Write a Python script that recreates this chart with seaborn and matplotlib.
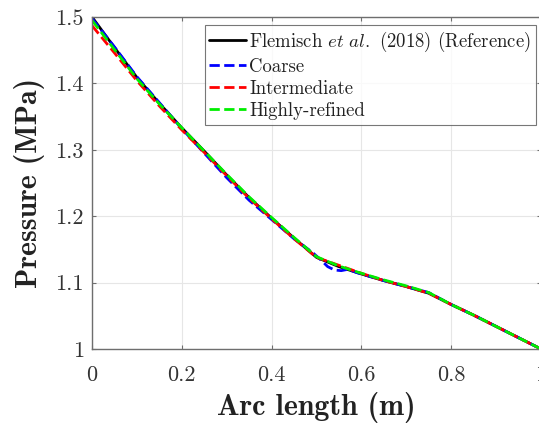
import matplotlib
matplotlib.use("Agg")
import matplotlib.pyplot as plt
import seaborn as sns
import pandas as pd
import numpy as np

# Data
ref_x = [0, 0.05, 0.1, 0.15, 0.2, 0.25, 0.3, 0.35, 0.4, 0.45, 0.5, 0.55, 0.6, 0.65, 0.7, 0.75, 0.8, 0.85, 0.9, 0.95, 1.0]
ref_y = [1.500, 1.454, 1.409, 1.370, 1.333, 1.298, 1.262, 1.228, 1.197, 1.167, 1.138, 1.124, 1.113, 1.103, 1.094, 1.084, 1.067, 1.051, 1.034, 1.017, 1.000]

coarse_x = [0, 0.05, 0.1, 0.15, 0.2, 0.25, 0.3, 0.35, 0.4, 0.45, 0.49, 0.51, 0.525, 0.54, 0.555, 0.57, 0.59, 0.65, 0.7, 0.75, 0.8, 0.85, 0.9, 0.95, 1.0]
coarse_y = [1.498, 1.455, 1.410, 1.371, 1.332, 1.295, 1.258, 1.224, 1.195, 1.166, 1.146, 1.134, 1.124, 1.119, 1.118, 1.120, 1.115, 1.103, 1.094, 1.085, 1.067, 1.051, 1.034, 1.017, 1.000]

inter_x = [0, 0.05, 0.1, 0.15, 0.2, 0.25, 0.3, 0.35, 0.4, 0.45, 0.5, 0.55, 0.6, 0.65, 0.7, 0.75, 0.8, 0.85, 0.9, 0.95, 1.0]
inter_y = [1.487, 1.446, 1.404, 1.366, 1.330, 1.296, 1.261, 1.227, 1.196, 1.166, 1.138, 1.126, 1.114, 1.103, 1.094, 1.084, 1.067, 1.051, 1.034, 1.017, 1.000]

fine_x = [0, 0.05, 0.1, 0.15, 0.2, 0.25, 0.3, 0.35, 0.4, 0.45, 0.5, 0.55, 0.6, 0.65, 0.7, 0.75, 0.8, 0.85, 0.9, 0.95, 1.0]
fine_y = [1.495, 1.451, 1.407, 1.369, 1.333, 1.298, 1.263, 1.229, 1.198, 1.168, 1.139, 1.125, 1.114, 1.104, 1.095, 1.085, 1.067, 1.051, 1.034, 1.017, 1.000]

labels = ["Flemisch $\\mathit{et\\ al.}$ (2018) (Reference)", "Coarse", "Intermediate", "Highly-refined"]
x_ticks = [0, 0.2, 0.4, 0.6, 0.8, 1.0]
x_tick_labels = ["0", "0.2", "0.4", "0.6", "0.8", "1"]
y_ticks = [1.0, 1.1, 1.2, 1.3, 1.4, 1.5]
y_tick_labels = ["1", "1.1", "1.2", "1.3", "1.4", "1.5"]

sns.set_theme(style="white")
plt.rcParams["font.family"] = ["cmr10", "DejaVu Serif"]
plt.rcParams["mathtext.fontset"] = "cm"
plt.rcParams["axes.formatter.use_mathtext"] = True

W, H = 539, 423
fig = plt.figure(figsize=(W / 100, H / 100), dpi=100)
fig.patch.set_facecolor("white")
ax = fig.add_axes([92 / W, 1 - 349 / H, (541 - 92) / W, (349 - 17) / H])
ax.set_facecolor("white")

df = pd.concat([
    pd.DataFrame({"x": ref_x, "y": ref_y, "s": labels[0]}),
    pd.DataFrame({"x": coarse_x, "y": coarse_y, "s": labels[1]}),
    pd.DataFrame({"x": inter_x, "y": inter_y, "s": labels[2]}),
    pd.DataFrame({"x": fine_x, "y": fine_y, "s": labels[3]}),
])

colors = ["black", "#0000ff", "#ff0000", "#00ee00"]
styles = ["-", "--", "--", "--"]
for lab, c, ls in zip(labels, colors, styles):
    sub = df[df["s"] == lab]
    sns.lineplot(data=sub, x="x", y="y", ax=ax, color=c, linestyle=ls,
                 linewidth=2.0, label=lab, estimator=None, sort=False)

ax.set_xlim(0, 1)
ax.set_ylim(1.0, 1.5)
ax.set_xticks(x_ticks)
ax.set_xticklabels(x_tick_labels)
ax.set_yticks(y_ticks)
ax.set_yticklabels(y_tick_labels)
ax.grid(True, color="#e6e6e6", linewidth=0.8)
for s in ax.spines.values():
    s.set_color("#6e6e6e")
    s.set_linewidth(1.0)
ax.tick_params(direction="in", length=3, width=0.8, color="#6e6e6e",
               labelsize=16, labelcolor="#333333", top=True, right=True,
               bottom=True, left=True)
ax.tick_params(axis="x", pad=12)
ax.tick_params(axis="y", pad=6)

ax.set_xlabel("Arc length (m)", family="cmb10", fontsize=21.5, color="#222222", labelpad=5)
ax.set_ylabel("Pressure (MPa)", family="cmb10", fontsize=21.5, color="#222222", labelpad=7)

leg = ax.legend(loc="upper right", bbox_to_anchor=(536 / W, 1 - 25 / H),
                bbox_transform=fig.transFigure, frameon=True, fancybox=False,
                edgecolor="#555555", fontsize=13.5, handlelength=1.95,
                handletextpad=0.18, borderpad=0.25, labelspacing=0.22,
                borderaxespad=0)
leg.get_frame().set_linewidth(0.8)
for t in leg.get_texts():
    t.set_color("#222222")

fig.savefig("out.png", dpi=100, facecolor="white")
